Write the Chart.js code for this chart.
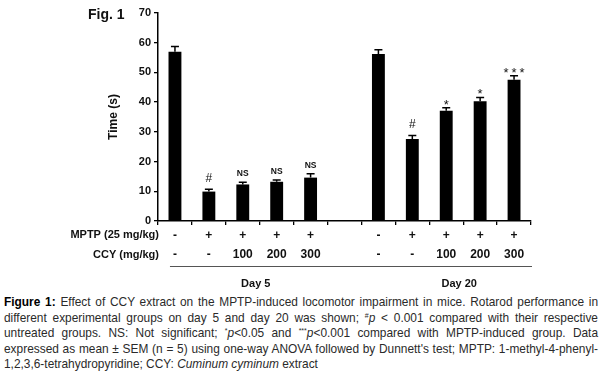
<!DOCTYPE html>
<html>
<head>
<meta charset="utf-8">
<script src="https://cdn.jsdelivr.net/npm/chart.js@4.4.0/dist/chart.umd.min.js"></script>
<style>
  body { margin: 0; background: #fff; width: 601px; height: 378px; overflow: hidden; position: relative;
         font-family: "Liberation Sans", Arial, sans-serif; }
  #wrap { position: absolute; left: 0; top: 0; width: 601px; height: 295px; }
  #cap { position: absolute; left: 4px; top: 295px; width: 594px; font-size: 11.9px; line-height: 15.5px;
         text-align: justify; color: #2a2a2a; }
  #cap b { color: #000; }
  #cap sup { font-size: 7px; line-height: 0; vertical-align: 4px; }
</style>
</head>
<body>
<div id="wrap"><canvas id="myChart" width="601" height="295"></canvas></div>
<div id="cap"><b>Figure 1:</b> Effect of CCY extract on the MPTP-induced locomotor impairment in mice. Rotarod performance in different experimental groups on day 5 and day 20 was shown; <sup>#</sup><i>p</i> &lt; 0.001 compared with their respective untreated groups. NS: Not significant; <sup>*</sup><i>p</i>&lt;0.05 and <sup>***</sup><i>p</i>&lt;0.001 compared with MPTP-induced group. Data expressed as mean ± SEM (n = 5) using one-way ANOVA followed by Dunnett's test; MPTP: 1-methyl-4-phenyl-1,2,3,6-tetrahydropyridine; CCY: <i>Cuminum cyminum</i> extract</div>
<script>
// rotarod time per group (day 5 groups, gap, day 20 groups)
const groups = ['d5 ctrl', 'd5 MPTP', 'd5 CCY100', 'd5 CCY200', 'd5 CCY300', '',
                'd20 ctrl', 'd20 MPTP', 'd20 CCY100', 'd20 CCY200', 'd20 CCY300'];
const times = [57.0, 9.9, 12.3, 13.2, 14.6, null, 56.2, 27.6, 37.1, 40.3, 47.5];
const sems  = [1.7, 0.8, 0.7, 0.6, 1.3, null, 1.4, 1.2, 1.0, 1.3, 1.4];
const marks = ['', '#', 'NS', 'NS', 'NS', '', '', '#', '*', '*', '***'];
const mptpRow = ['-', '+', '+', '+', '+', '', '-', '+', '+', '+', '+'];
const ccyRow  = ['-', '-', '100', '200', '300', '', '-', '-', '100', '200', '300'];
const days = ['Day 5', 'Day 20'];
const dayCenters = [2, 8];
const yMax = 70, yStep = 10;

const FONT = '"Liberation Sans", Arial, sans-serif';

const overlay = {
  id: 'overlay',
  afterDatasetsDraw(chart) {
    const ctx = chart.ctx, x = chart.scales.x, y = chart.scales.y;
    ctx.save();
    ctx.strokeStyle = '#000';
    ctx.fillStyle = '#111';
    ctx.lineWidth = 1.5;
    ctx.textAlign = 'center';
    ctx.textBaseline = 'alphabetic';
    times.forEach((v, i) => {
      if (v == null) return;
      const cx = x.getPixelForValue(i);
      const y0 = y.getPixelForValue(v);
      const y1 = y.getPixelForValue(v + sems[i]);
      ctx.beginPath();
      ctx.moveTo(cx, y0); ctx.lineTo(cx, y1);
      ctx.moveTo(cx - 4, y1); ctx.lineTo(cx + 4, y1);
      ctx.stroke();
      const m = marks[i];
      if (m === '#') {
        ctx.font = '12px ' + FONT;
        ctx.fillText(m, cx, y1 - 7);
      } else if (m === 'NS') {
        ctx.font = 'bold 8.5px ' + FONT;
        ctx.fillText(m, cx, y1 - 6);
      } else if (m) {
        ctx.font = '13px ' + FONT;
        const n = m.length, gap = 8;
        for (let k = 0; k < n; k++) {
          ctx.fillText('*', cx + (k - (n - 1) / 2) * gap, y1 + 1);
        }
      }
    });
    ctx.restore();
  },
  afterDraw(chart) {
    const ctx = chart.ctx, x = chart.scales.x, base = chart.chartArea.bottom;
    ctx.save();
    ctx.fillStyle = '#111';
    ctx.textBaseline = 'middle';
    // Fig. 1
    ctx.font = 'bold 14px ' + FONT;
    ctx.textAlign = 'left';
    ctx.fillText('Fig. 1', 88, 15);
    // row labels
    ctx.font = 'bold 11px ' + FONT;
    ctx.textAlign = 'right';
    ctx.fillText('MPTP (25 mg/kg)', 159, base + 14);
    ctx.fillText('CCY (mg/kg)', 159, base + 34);
    ctx.textAlign = 'center';
    for (let i = 0; i < groups.length; i++) {
      const cx = x.getPixelForValue(i);
      ctx.font = 'bold 12px ' + FONT;
      ctx.fillText(mptpRow[i], cx, base + 15);
      ctx.fillText(ccyRow[i], cx, base + 34);
    }
    // underline
    ctx.strokeStyle = '#555';
    ctx.lineWidth = 1;
    ctx.beginPath();
    ctx.moveTo(x.getPixelForValue(0) - 5, base + 45.5);
    ctx.lineTo(x.right + 1, base + 45.5);
    ctx.stroke();
    // day labels
    ctx.font = 'bold 11px ' + FONT;
    days.forEach((d, k) => {
      ctx.fillText(d, x.getPixelForValue(dayCenters[k]) + 13, base + 63);
    });
    ctx.restore();
  }
};

const data = {
  labels: groups,
  datasets: [{
    data: times,
    backgroundColor: '#000',
    borderWidth: 0,
    categoryPercentage: 1,
    barPercentage: 0.38
  }]
};

const config = {
  type: 'bar',
  data: data,
  options: {
    responsive: false,
    animation: false,
    layout: { padding: { left: 103, right: 70, top: 13, bottom: 0 } },
    plugins: { legend: { display: false }, tooltip: { enabled: false } },
    scales: {
      x: {
        grid: { drawOnChartArea: false, drawTicks: true, tickLength: 4, color: '#000', lineWidth: 1.3 },
        border: { color: '#000', width: 1.5 },
        ticks: { display: false },
        afterFit(s) { s.height = 74; }
      },
      y: {
        min: 0, max: yMax,
        grid: { drawOnChartArea: false, tickLength: 4, color: '#000', lineWidth: 1.3 },
        border: { color: '#000', width: 1.5 },
        ticks: { stepSize: yStep, color: '#111', padding: 3, font: { family: FONT, size: 11, weight: 'bold' } },
        title: { display: true, text: 'Time (s)', color: '#111', padding: { top: 3, bottom: 0 },
                 font: { family: FONT, size: 12, weight: 'bold' } },
        afterFit(s) { s.width = 55; }
      }
    }
  },
  plugins: [overlay]
};

const myChart = new Chart(document.getElementById('myChart'), config);
</script>
</body>
</html>
